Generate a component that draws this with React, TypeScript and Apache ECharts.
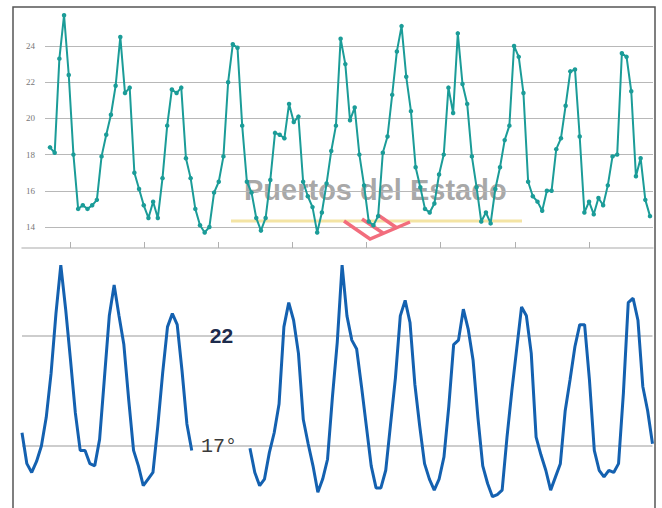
import React, { useEffect, useRef } from "react";
import * as echarts from "echarts";

// Top panel: teal series (°C), evenly spaced samples
const topValues = [
  18.4, 18.1, 23.3, 25.7, 22.4, 18.0, 15.0, 15.2, 15.0, 15.2,
  15.5, 17.9, 19.1, 20.2, 21.8, 24.5, 21.4, 21.7, 17.0, 16.1,
  15.2, 14.5, 15.4, 14.5, 16.7, 19.6, 21.6, 21.4, 21.7, 17.8,
  16.7, 15.0, 14.1, 13.7, 14.0, 15.9, 16.5, 17.9, 22.0, 24.1,
  23.9, 19.6, 16.5, 15.9, 14.5, 13.8, 14.5, 16.6, 19.2, 19.1,
  18.9, 20.8, 19.8, 20.1, 16.5, 15.7, 15.1, 13.7, 14.8, 16.4,
  18.2, 19.6, 24.4, 23.0, 19.9, 20.6, 18.0, 16.3, 14.3, 14.1,
  14.6, 18.1, 19.0, 21.3, 23.7, 25.1, 22.3, 20.4, 17.3, 16.2,
  15.0, 14.8, 15.3, 16.9, 18.0, 21.7, 20.3, 24.7, 21.9, 20.8,
  17.9, 16.2, 14.3, 14.8, 14.2, 16.1, 17.3, 18.8, 19.6, 24.0,
  23.4, 21.4, 16.5, 15.7, 15.4, 14.9, 16.0, 16.0, 18.3, 18.9,
  20.7, 22.6, 22.7, 19.0, 14.8, 15.4, 14.7, 15.6, 15.2, 16.3,
  17.9, 18.0, 23.6, 23.4, 21.5, 16.8, 17.8, 15.5, 14.6,
];
const topTicks = [14, 16, 18, 20, 22, 24];
const dayTicks = [1, 2, 3, 4, 5, 6, 7, 8];

// Bottom panel: blue series, with a gap of missing samples
const bottomLeft = [
  17.6, 16.2, 15.8, 16.3, 17.0, 18.3, 20.3, 23.0, 25.2, 23.2,
  20.9, 18.5, 16.8, 16.8, 16.2, 16.1, 17.3, 20.1, 22.9, 24.3,
  22.9, 21.6, 19.1, 16.8, 16.1, 15.2, 15.5, 15.8, 17.9, 20.3,
  22.4, 23.0, 22.5, 20.4, 18.0, 16.8,
];
const bottomGapCount = 11;
const bottomRight = [
  16.9, 15.8, 15.2, 15.5, 16.7, 17.6, 18.9, 22.4, 23.5, 22.7,
  21.2, 18.2, 17.1, 16.1, 14.9, 15.5, 16.4, 19.2, 21.7, 25.2,
  22.9, 21.8, 21.4, 19.7, 17.9, 16.1, 15.1, 15.1, 15.9, 18.0,
  20.1, 22.9, 23.6, 22.6, 19.8, 17.9, 16.2, 15.5, 15.0, 15.5,
  16.5, 18.8, 21.6, 21.8, 23.2, 22.3, 20.9, 18.3, 16.1, 15.3,
  14.7, 14.8, 15.0, 17.4, 19.5, 21.4, 23.3, 22.9, 21.2, 17.4,
  16.6, 15.9, 15.0, 15.6, 16.2, 18.6, 20.0, 21.5, 22.5, 22.5,
  20.0, 16.8, 15.9, 15.6, 15.9, 15.8, 16.2, 19.4, 23.5, 23.7,
  22.7, 19.7, 18.6, 17.1,
];
const bottomTicks = [17, 22];
const bottomTickLabels = ["17°", "22"];

const watermarkText = "Puertos del Estado";

export default function App() {
  const ref = useRef<HTMLDivElement>(null);
  useEffect(() => {
    if (!ref.current) return;
    const chart = echarts.init(ref.current, null, { renderer: "svg" });
    const bottomValues: (number | null)[] = [
      ...bottomLeft,
      ...Array(bottomGapCount).fill(null),
      ...bottomRight,
    ];
    const bottomData = bottomValues.map((v, k) => [k - 1, v]);
    const teal = "#1b9c98";
    const blue = "#1461b0";
    chart.setOption({
      animation: false,
      grid: [
        { left: 45, right: 9, top: 46, bottom: 508 - 227 },
        { left: 22, right: 9, top: 200, bottom: 508 - 248 },
        { left: 22, right: 9.5, top: 335.7, bottom: 62 },
      ],
      xAxis: [
        { gridIndex: 0, type: "value", min: -1.067, max: 128.64, show: false },
        {
          gridIndex: 1,
          type: "value",
          min: 0.3526,
          max: 8.863,
          axisLine: { show: true, onZero: false, lineStyle: { color: "#c6c6c6", width: 1.5 } },
          axisTick: {
            show: true,
            inside: true,
            length: 6,
            customValues: dayTicks,
            lineStyle: { color: "#b0b0b0", width: 1 },
          },
          axisLabel: { show: false },
          splitLine: { show: false },
        },
        {
          gridIndex: 2,
          type: "value",
          min: -1,
          max: bottomValues.length - 2,
          show: false,
        },
      ],
      yAxis: [
        {
          gridIndex: 0,
          type: "value",
          min: topTicks[0],
          max: topTicks[topTicks.length - 1],
          interval: 2,
          axisLine: { show: false },
          axisTick: { show: false },
          axisLabel: {
            color: "#777",
            fontSize: 9,
            fontFamily: "Liberation Serif",
            margin: 10,
          },
          splitLine: { lineStyle: { color: "#b8b8b8", width: 1 } },
        },
        { gridIndex: 1, type: "value", show: false },
        {
          gridIndex: 2,
          type: "value",
          min: bottomTicks[0],
          max: bottomTicks[1],
          interval: bottomTicks[1] - bottomTicks[0],
          offset: -197,
          axisLine: { show: false },
          axisTick: { show: false },
          axisLabel: {
            inside: true,
            margin: 0,
            align: "center",
            formatter: (v: number) => {
              const idx = bottomTicks.indexOf(v);
              if (idx < 0) return "";
              return idx === 0 ? `{b|${bottomTickLabels[0]}}` : `{a|${bottomTickLabels[1]}}`;
            },
            rich: {
              a: {
                fontFamily: "Liberation Sans",
                fontWeight: "bold",
                fontSize: 21,
                color: "#1d2b4c",
                padding: [0, 0, 0, 5],
              },
              b: {
                fontFamily: "Liberation Mono",
                fontSize: 20,
                color: "#3a3a3a",
              },
            },
          },
          splitLine: { lineStyle: { color: "#bcbcbc", width: 1.5 } },
        },
      ],
      graphic: {
        elements: [
          {
            type: "text",
            x: 244,
            y: 190,
            z: 0,
            style: {
              text: watermarkText,
              font: 'bold 29px "Liberation Sans"',
              fill: "rgba(135,135,135,0.72)",
              verticalAlign: "middle",
              align: "left",
            },
          },
          {
            type: "line",
            z: 0,
            shape: { x1: 231, y1: 221, x2: 522, y2: 221 },
            style: { stroke: "#f4e4a4", lineWidth: 3 },
          },
          {
            type: "polyline",
            z: 1,
            shape: { points: [[344, 221], [370, 239], [410, 222]] },
            style: { stroke: "#f26d7d", lineWidth: 3.5, fill: "none" },
          },
          {
            type: "polyline",
            z: 1,
            shape: { points: [[362, 219], [383, 233]] },
            style: { stroke: "#f26d7d", lineWidth: 3.5, fill: "none" },
          },
          {
            type: "polyline",
            z: 1,
            shape: { points: [[378, 215], [397, 228]] },
            style: { stroke: "#f26d7d", lineWidth: 3.5, fill: "none" },
          },
          {
            type: "rect",
            z: 20,
            shape: { x: 13, y: 7, width: 642, height: 530 },
            style: { fill: "none", stroke: "#555", lineWidth: 1.5 },
          },
        ],
      },
      series: [
        {
          type: "line",
          xAxisIndex: 0,
          yAxisIndex: 0,
          data: topValues.map((v, i) => [i, v]),
          clip: false,
          symbol: "circle",
          symbolSize: 4.5,
          showSymbol: true,
          lineStyle: { color: teal, width: 2 },
          itemStyle: { color: teal },
          z: 5,
        },
        {
          type: "line",
          xAxisIndex: 2,
          yAxisIndex: 2,
          data: bottomData,
          clip: false,
          symbol: "none",
          showSymbol: false,
          connectNulls: false,
          lineStyle: { color: blue, width: 3 },
          z: 5,
        },
      ],
    });
    return () => chart.dispose();
  }, []);
  return (
    <div
      ref={ref}
      style={{ position: "fixed", left: 0, top: 0, width: 662, height: 508, background: "#fff" }}
    />
  );
}
